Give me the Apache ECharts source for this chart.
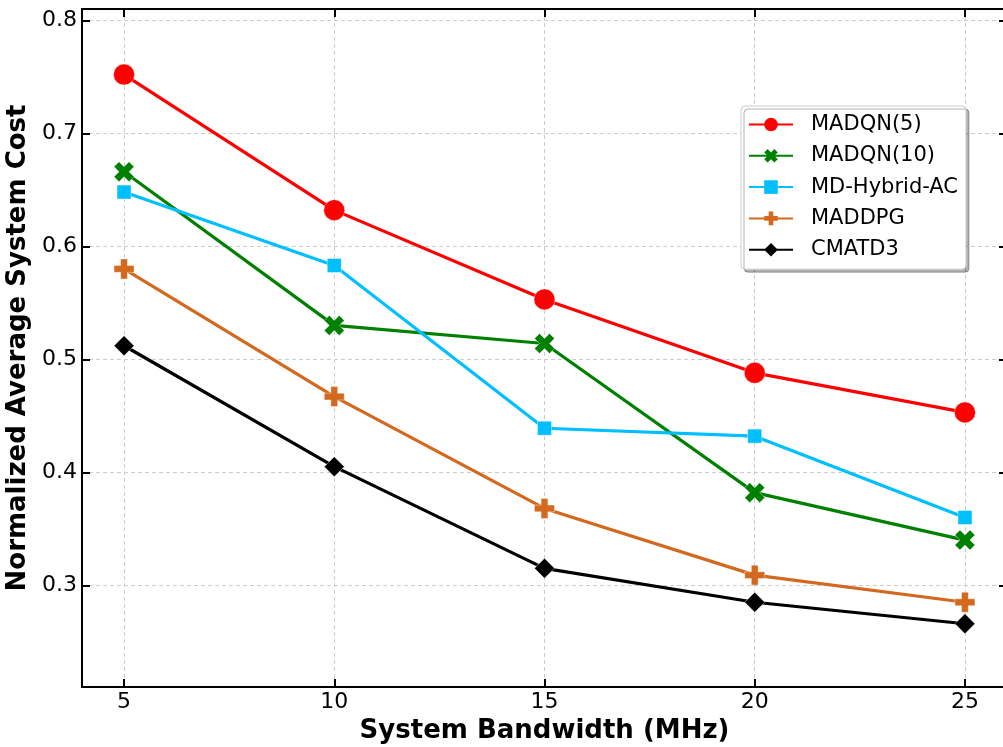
<!DOCTYPE html>
<html>
<head>
<meta charset="utf-8">
<script src="https://cdn.jsdelivr.net/npm/echarts@6/dist/echarts.min.js"></script>
<style>
html,body{margin:0;padding:0;background:#fff;}
#chart{width:1003px;height:747px;}
</style>
</head>
<body>
<div id="chart"></div>
<script>
const categories = [5, 10, 15, 20, 25];
const seriesNames = ['MADQN(5)', 'MADQN(10)', 'MD-Hybrid-AC', 'MADDPG', 'CMATD3'];
const madqn5 = [0.752, 0.632, 0.553, 0.488, 0.453];
const madqn10 = [0.666, 0.530, 0.514, 0.382, 0.340];
const mdHybridAC = [0.648, 0.583, 0.439, 0.432, 0.360];
const maddpg = [0.580, 0.467, 0.368, 0.309, 0.285];
const cmatd3 = [0.512, 0.405, 0.315, 0.285, 0.266];
const xTitle = 'System Bandwidth (MHz)';
const yTitle = 'Normalized Average System Cost';

const values = [madqn5, madqn10, mdHybridAC, maddpg, cmatd3];
const colors = ['#ff0000', '#008000', '#00bfff', '#d2691e', '#000000'];
const X_PATH = 'path://M0,2.5 L2.5,0 L5,2.5 L7.5,0 L10,2.5 L7.5,5 L10,7.5 L7.5,10 L5,7.5 L2.5,10 L0,7.5 L2.5,5 Z';
const P_PATH = 'path://M3.3,0 L6.7,0 L6.7,3.3 L10,3.3 L10,6.7 L6.7,6.7 L6.7,10 L3.3,10 L3.3,6.7 L0,6.7 L0,3.3 L3.3,3.3 Z';
const symbols = ['circle', X_PATH, 'rect', P_PATH, 'diamond'];
const sizes = [21, 20, 14, 20, 20];

const chart = echarts.init(document.getElementById('chart'), null, {renderer: 'canvas'});
const FONT = 'DejaVu Sans';

const axisCommon = {
  axisLine: {show: true, onZero: false, lineStyle: {color: '#000', width: 2}},
  axisTick: {show: true, inside: true, length: 8, lineStyle: {color: '#000', width: 2}},
};

const option = {
  backgroundColor: '#fff',
  animation: false,
  grid: {left: 82, top: 9, width: 925, height: 678, containLabel: false, outerBoundsMode: 'none'},
  legend: {
    orient: 'vertical',
    left: 741,
    top: 106,
    data: seriesNames,
    itemWidth: 44,
    itemHeight: 17,
    itemGap: 10.3,
    padding: [8, 8, 9, 7],
    backgroundColor: '#fff',
    borderColor: '#cccccc',
    borderWidth: 1,
    borderRadius: 4,
    shadowColor: 'rgba(0,0,0,0.3)',
    shadowBlur: 0,
    shadowOffsetX: 3,
    shadowOffsetY: 3,
    lineStyle: {width: 2},
    itemStyle: {borderWidth: 0},
    textStyle: {fontFamily: FONT, fontSize: 21, color: '#000', padding: [0, 0, 0, 13]}
  },
  xAxis: [
    Object.assign({
      type: 'value', min: 4, max: 26, splitNumber: 5, position: 'bottom',
      name: xTitle, nameLocation: 'middle', nameGap: 24,
      nameTextStyle: {fontFamily: FONT, fontSize: 26, fontWeight: 'bold', color: '#000'},
      axisLabel: {show: true, showMinLabel: false, showMaxLabel: false, margin: 4, fontFamily: FONT, fontSize: 22, color: '#000'},
      splitLine: {show: true, lineStyle: {color: '#cccccc', width: 1, type: [4, 3]}}
    }, axisCommon),
    Object.assign({
      type: 'value', min: 4, max: 26, splitNumber: 5, position: 'top',
      axisLabel: {show: false}, splitLine: {show: false}
    }, axisCommon)
  ],
  yAxis: [
    Object.assign({
      type: 'value', min: 0.21, max: 0.81, splitNumber: 6, position: 'left',
      name: yTitle, nameLocation: 'middle', nameGap: 46, nameRotate: 90,
      nameTextStyle: {fontFamily: FONT, fontSize: 26, fontWeight: 'bold', color: '#000'},
      axisLabel: {show: true, showMinLabel: false, showMaxLabel: false, margin: 5, fontFamily: FONT, fontSize: 22, color: '#000',
        formatter: v => v.toFixed(1)},
      splitLine: {show: true, lineStyle: {color: '#cccccc', width: 1, type: [4, 3]}}
    }, axisCommon),
    Object.assign({
      type: 'value', min: 0.21, max: 0.81, splitNumber: 6, position: 'right',
      axisLabel: {show: false}, splitLine: {show: false}
    }, axisCommon)
  ],
  series: seriesNames.map((name, i) => ({
    name: name,
    type: 'line',
    xAxisIndex: 0,
    yAxisIndex: 0,
    data: categories.map((c, j) => [c, values[i][j]]),
    symbol: symbols[i],
    symbolSize: sizes[i],
    showAllSymbol: true,
    lineStyle: {color: colors[i], width: 3.2},
    itemStyle: {color: colors[i], borderColor: 'rgba(255,255,255,0.5)', borderWidth: 0.8},
    emphasis: {disabled: true},
    z: 2 + i
  }))
};
chart.setOption(option);
</script>
</body>
</html>
